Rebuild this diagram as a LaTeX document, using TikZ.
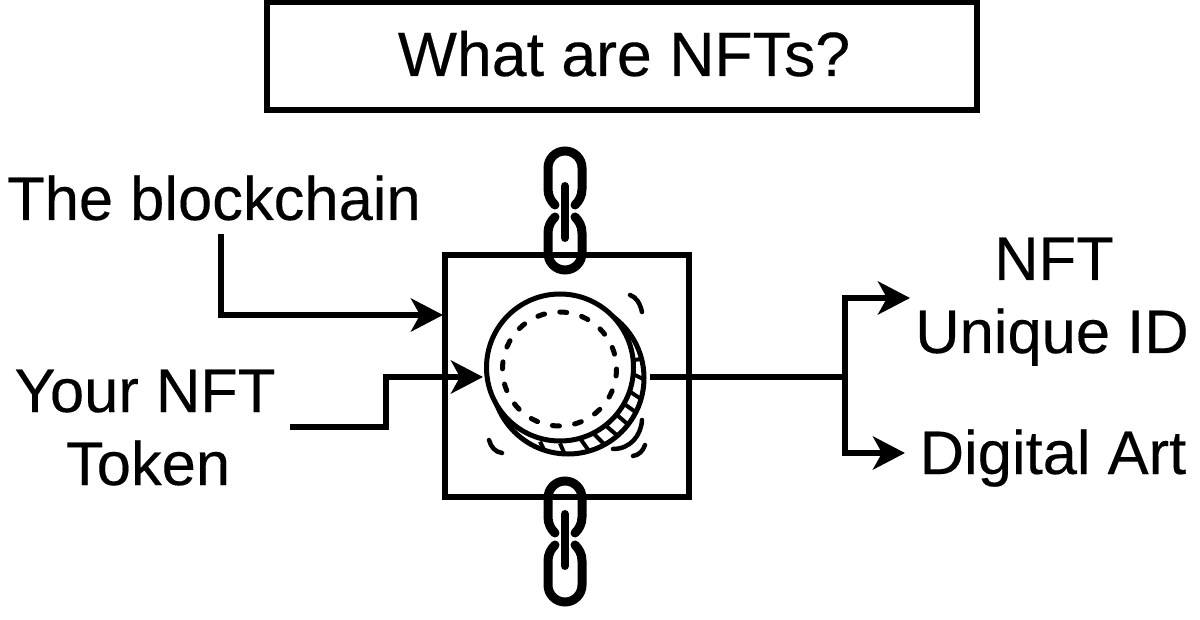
\documentclass[tikz,border=0pt]{standalone}
\usepackage{fontspec}
\setmainfont[FakeBold=0.25]{Liberation Sans}
\usetikzlibrary{arrows.meta}
\tikzset{
  label text/.style={inner sep=0pt,anchor=base,font=\fontsize{61.5}{73}\selectfont},
  title text/.style={inner sep=0pt,anchor=base,font=\fontsize{62.6}{73}\selectfont},
  frame/.style={draw=black,line width=6pt,inner sep=0pt,fill=none},
  conn/.style={draw=black,line width=6pt,line join=miter},
  arrowconn/.style={conn,-{Stealth[length=32pt,width=33pt,inset=9pt]}},
  chainlink/.style={draw=black,line width=9pt,line cap=round},
  chainbar/.style={draw=black,line width=8pt,line cap=round},
  coinline/.style={draw=black,line width=5pt},
  hatchline/.style={draw=black,line width=4pt},
  coinmark/.style={draw=black,line width=4.5pt,line cap=round}
}
\newcommand{\linkpair}[4]{%
  \draw[chainlink] (555,#2) .. controls (551,#2-4) and (548,#2-9) .. (548,#2-16)
    -- (548,#1+17) arc[start angle=180,end angle=0,x radius=17,y radius=-17]
    -- (582,#2-16) .. controls (582,#2-9) and (579,#2-4) .. (575,#2);
  \draw[chainlink] (555,#3) .. controls (551,#3+4) and (548,#3+9) .. (548,#3+16)
    -- (548,#4-17) arc[start angle=180,end angle=360,x radius=17,y radius=-17]
    -- (582,#3+16) .. controls (582,#3+9) and (579,#3+4) .. (575,#3);
}
\begin{document}
\begin{tikzpicture}[x=1pt,y=-1pt]
\useasboundingbox (0,0) rectangle (1200,620);
\fill[white] (0,0) rectangle (1200,620);

% title
\node[frame,minimum width=710pt,minimum height=108pt] (titlebox) at (622,56) {};
\node[title text] (title) at (624,76) {What are NFTs?};

% main square
\node[frame,minimum width=244pt,minimum height=242pt] (square) at (567,376) {};

% chains
\linkpair{151}{205}{217}{270}
\draw[chainbar] (565,186) -- (565,238);
\linkpair{481}{533}{545}{602}
\draw[chainbar] (565,514) -- (565,566);

% coin rim, hatching and face
\begin{scope}
  \clip (568,378) circle (76);
  \begin{scope}[shift={(440,260)},x=0.33333pt,y=-0.33333pt]
    \foreach \a/\b/\c/\d in {582/300/620/295,585/345/615/360,570/395/600/415,550/430/585/455,525/460/560/490,495/495/530/525,460/520/490/550,420/535/445/570,360/550/375/585,300/545/315/575,580/250/612/235}
      \draw[hatchline] (\a,\b) -- (\c,\d);
  \end{scope}
\end{scope}
\draw[coinline] (568,378) circle (76);
\node[circle,draw=black,fill=white,line width=5pt,minimum size=147pt,inner sep=0pt,outer sep=0pt] (coin) at (560,367.5) {};
\draw[coinmark,line width=5pt,dash pattern=on 7pt off 15.4pt] (559.5,369) circle (57);

% sparkle marks
\draw[coinmark] (630,295) .. controls (636,297) and (640,303) .. (642,312);
\draw[coinmark] (489,440) .. controls (491,447) and (495,452) .. (502,453);
\draw[coinmark] (642,420) .. controls (641,436) and (630,449) .. (613,449);
\draw[coinmark] (645,445) .. controls (643,451) and (639,455) .. (633,456);

% labels
\node[label text] (blockchain) at (214,220) {The blockchain};
\node[label text] (yournft) at (145,412) {Your NFT};
\node[label text] (token) at (148,485) {Token};
\node[label text] (nft) at (1054,280) {NFT};
\node[label text] (uniqueid) at (1052,353) {Unique ID};
\node[label text] (digitalart) at (1053,474) {Digital Art};

% connector ends
\coordinate (blockstart) at (221,234);
\coordinate (squareentry) at (443,315);
\coordinate (tokenstart) at (290,427);
\coordinate (cointip) at (483,377);
\coordinate (coinright) at (650,377);
\coordinate (fork) at (845,377);
\coordinate (nfttip) at (910,298);
\coordinate (arttip) at (905,453);

\draw[arrowconn] (blockstart) |- (squareentry);
\draw[arrowconn] (tokenstart) -- (386,427) -- (386,377) -- (cointip);
\draw[conn] (coinright) -- (fork);
\draw[arrowconn] (fork) |- (nfttip);
\draw[arrowconn] (fork) |- (arttip);
\end{tikzpicture}
\end{document}
